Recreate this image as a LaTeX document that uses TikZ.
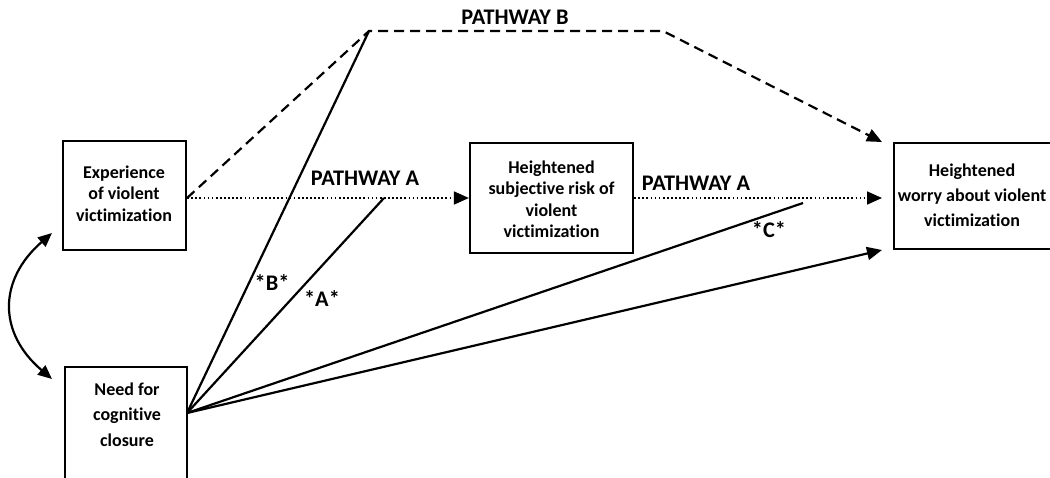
\documentclass[tikz,border=0pt]{standalone}
\usepackage{fontspec}
\setmainfont{Carlito}[Ligatures=NoCommon]
\usetikzlibrary{arrows.meta}
\begin{document}
\begin{tikzpicture}[x=1pt,y=-1pt,
  box/.style={draw, line width=2.2pt, inner sep=0pt},
  boxtext/.style={font=\fontsize{18}{21.5}\selectfont\bfseries, align=center, inner sep=0pt},
  widetext/.style={boxtext, font=\fontsize{18}{25.5}\selectfont\bfseries},
  lbl/.style={font=\fontsize{22.3}{26}\selectfont\bfseries, inner sep=0pt},
  tip/.style={-{Triangle[length=15pt,width=13pt]}},
  solidline/.style={line width=2.2pt},
  dotline/.style={line width=1.7pt, dash pattern=on 1.7pt off 2.4pt},
  dashline/.style={line width=2.2pt, dash pattern=on 10pt off 6pt},
]
\useasboundingbox (0,0) rectangle (1050,477);

% boxes
\node[box, minimum width=123pt, minimum height=109pt] (b1) at (124.5,195.5) {};
\node[box, minimum width=122pt, minimum height=112pt] (b2) at (126,423) {};
\node[box, minimum width=163pt, minimum height=110pt] (b3) at (551.5,198) {};
\node[box, minimum width=166pt, minimum height=106pt] (b4) at (977,196) {};

% box texts
\node[boxtext] (t1) at (124,193.5) {Experience\\of violent\\victimization};
\node[widetext] (t2) at (127,414.5) {Need for\\cognitive\\closure};
\node[boxtext] (t3) at (551.5,199) {Heightened\\subjective risk of\\violent\\victimization};
\node[widetext, font=\fontsize{18}{25}\selectfont\bfseries] (t4) at (972,195.5) {Heightened\\worry about violent\\victimization};

% labels
\node[lbl] (lB) at (515,17) {PATHWAY B};
\node[lbl] (lA1) at (365,178.5) {PATHWAY A};
\node[lbl] (lA2) at (696,183) {PATHWAY A};
\node[lbl] (sB) at (272,283) {*B*};
\node[lbl] (sA) at (322,299) {*A*};
\node[lbl] (sC) at (769,230) {*C*};

% helper coordinates
\coordinate (s1) at (b1.east |- b3.west);
\coordinate (pB1) at (369,31);
\coordinate (pB2) at (663,31);
\coordinate (e4a) at (882,142);
\coordinate (e4b) at (882,198);
\coordinate (e4c) at (882,250);
\coordinate (v) at (187,413);
\coordinate (aEnd) at (384,198);
\coordinate (cEnd) at (803,203);
\coordinate (cu1) at (52,233);
\coordinate (cu2) at (52,379);

% pathway A (dotted)
\draw[dotline, tip] (s1) -- (b3.west);
\draw[dotline, tip] (b3.east) -- (e4b);

% pathway B (dashed)
\draw[dashline, tip] (s1) -- (pB1) -- (pB2) -- (e4a);

% lines from need for cognitive closure
\draw[solidline] (v) -- (pB1);
\draw[solidline] (v) -- (aEnd);
\draw[solidline] (v) -- (cEnd);
\draw[solidline, tip] (v) -- (e4c);

% correlation
\draw[solidline, {Triangle[length=14pt,width=12pt]}-{Triangle[length=14pt,width=12pt]}]
  (cu1) .. controls (-2,280) and (-2,333) .. (cu2);
\end{tikzpicture}
\end{document}
